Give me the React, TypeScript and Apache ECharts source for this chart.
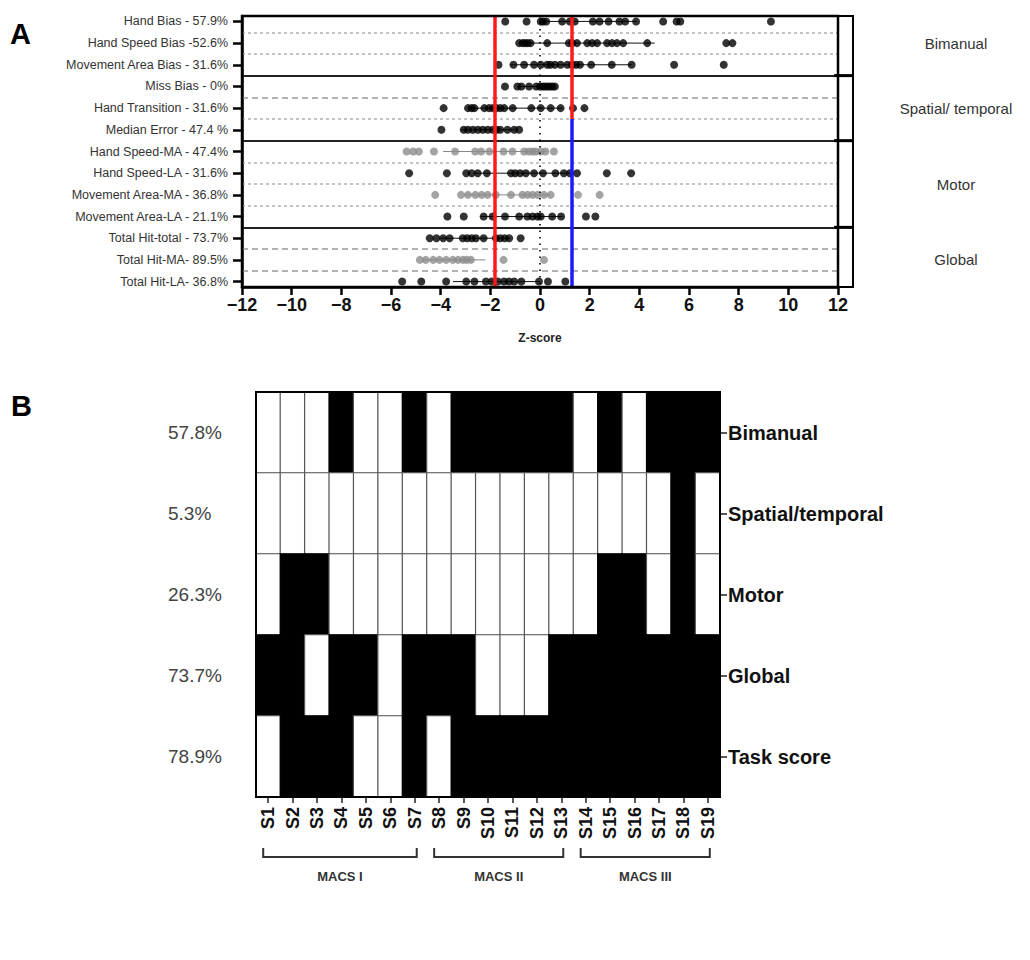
import React, { useEffect, useRef } from "react";
import * as echarts from "echarts";

// ---------- Panel A data ----------
const rowLabels = [
  "Hand Bias - 57.9%",
  "Hand Speed Bias -52.6%",
  "Movement Area Bias - 31.6%",
  "Miss Bias - 0%",
  "Hand Transition - 31.6%",
  "Median Error - 47.4 %",
  "Hand Speed-MA - 47.4%",
  "Hand Speed-LA - 31.6%",
  "Movement Area-MA - 36.8%",
  "Movement Area-LA - 21.1%",
  "Total Hit-total - 73.7%",
  "Total Hit-MA- 89.5%",
  "Total Hit-LA- 36.8%",
];
const rowGray = [false, false, false, false, false, false, true, false, true, false, false, true, false];

const handBias = [-1.4, -0.54, 0.03, 0.12, 0.25, 0.89, 1.2, 1.4, 2.13, 2.4, 2.76, 3.2, 3.43, 3.87, 4.96, 5.5, 5.65, 9.3];
const handSpeedBias = [-0.84, -0.7, -0.6, -0.5, -0.38, 0.29, 1.16, 1.3, 1.49, 1.9, 2.1, 2.3, 2.7, 2.9, 3.1, 3.35, 4.32, 7.5, 7.75];
const movementAreaBias = [-1.67, -1.07, -0.64, -0.24, 0.03, 0.29, 0.42, 0.6, 0.83, 1.1, 1.29, 1.45, 1.61, 2.06, 2.89, 3.69, 5.4, 7.4];
const missBias = [-1.41, -0.91, -0.75, -0.44, -0.15, 0.0, 0.1, 0.2, 0.3, 0.4, 0.5, 0.6];
const handTransition = [-3.88, -2.9, -2.75, -2.64, -2.24, -2.05, -1.9, -1.75, -1.6, -1.44, -1.1, -0.35, 0.03, 0.43, 0.83, 1.33, 1.79];
const medianError = [-3.97, -3.07, -2.9, -2.7, -2.5, -2.3, -2.1, -1.9, -1.75, -1.6, -1.31, -1.04, -0.84];
const handSpeedMA = [-5.37, -5.11, -4.88, -4.27, -3.42, -2.61, -2.37, -2.04, -1.47, -1.11, -0.64, -0.45, -0.3, -0.17, 0.03, 0.22, 0.56];
const handSpeedLA = [-5.27, -3.75, -2.97, -2.75, -2.51, -2.14, -1.17, -1.0, -0.8, -0.57, -0.24, 0.12, 0.62, 0.96, 1.2, 1.49, 2.69, 3.67];
const movementAreaMA = [-4.22, -3.18, -2.9, -2.6, -2.35, -2.11, -1.78, -1.17, -0.71, -0.5, -0.3, -0.1, 0.16, 0.43, 1.53, 2.4];
const movementAreaLA = [-3.73, -3.07, -2.27, -1.91, -1.41, -0.84, -0.51, -0.3, -0.1, 0.03, 0.49, 0.85, 1.85, 2.23];
const totalHitTotal = [-4.44, -4.17, -3.9, -3.64, -3.11, -2.93, -2.75, -2.58, -2.27, -1.78, -1.6, -1.42, -1.24, -0.78];
const totalHitMA = [-4.84, -4.6, -4.3, -4.05, -3.78, -3.51, -3.3, -3.1, -2.95, -2.78, -1.47, 0.16];
const totalHitLA = [-5.55, -4.78, -3.78, -2.97, -2.64, -2.18, -1.95, -1.7, -1.45, -1.25, -1.04, -0.75, -0.04, 0.32, 1.02];

const rowValues = [
  handBias, handSpeedBias, movementAreaBias, missBias, handTransition, medianError,
  handSpeedMA, handSpeedLA, movementAreaMA, movementAreaLA, totalHitTotal, totalHitMA, totalHitLA,
];
const errLow = [0.0, -0.6, -1.2, -0.9, -2.7, -3.2, -3.9, -2.6, -3.0, -2.4, -4.0, -4.7, -3.5];
const errHigh = [3.9, 4.62, 3.7, 0.6, 0.9, -1.0, 0.3, 1.3, 0.4, 0.9, -1.2, -2.2, 0.0];

const groupNames = ["Bimanual", "Spatial/ temporal", "Motor", "Global"];
const groupCenters = [1, 4, 7.5, 11];
const groupBounds = [2.5, 5.5, 9.5];
const dashedBounds = [0.5, 1.5, 3.5, 4.5, 6.5, 7.5, 8.5, 10.5, 11.5];
const longDashBounds = [3.5, 10.5, 11.5];
const leftThreshold = -1.84;
const rightThreshold = 1.29;
const redBlueSplit = 4.5;

// ---------- Panel B data ----------
const subjects = ["S1", "S2", "S3", "S4", "S5", "S6", "S7", "S8", "S9", "S10", "S11", "S12", "S13", "S14", "S15", "S16", "S17", "S18", "S19"];
const domains = ["Bimanual", "Spatial/temporal", "Motor", "Global", "Task score"];
const domainPercents = ["57.8%", "5.3%", "26.3%", "73.7%", "78.9%"];
const bimanualRow = [0, 0, 0, 1, 0, 0, 1, 0, 1, 1, 1, 1, 1, 0, 1, 0, 1, 1, 1];
const spatialRow = [0, 0, 0, 0, 0, 0, 0, 0, 0, 0, 0, 0, 0, 0, 0, 0, 0, 1, 0];
const motorRow = [0, 1, 1, 0, 0, 0, 0, 0, 0, 0, 0, 0, 0, 0, 1, 1, 0, 1, 0];
const globalRow = [1, 1, 0, 1, 1, 0, 1, 1, 1, 0, 0, 0, 1, 1, 1, 1, 1, 1, 1];
const taskRow = [0, 1, 1, 1, 0, 0, 1, 0, 1, 1, 1, 1, 1, 1, 1, 1, 1, 1, 1];
const matrix = [bimanualRow, spatialRow, motorRow, globalRow, taskRow];
const macsNames = ["MACS I", "MACS II", "MACS III"];
const macsFirst = [0, 7, 13];
const macsLast = [6, 12, 18];

const FONT = "'Liberation Sans', Arial, Helvetica, sans-serif";

export default function App() {
  const ref = useRef<HTMLDivElement>(null);
  useEffect(() => {
    document.body.style.margin = "0";
    const chart = echarts.init(ref.current!, null, { renderer: "svg" });

    const gA = { left: 242, top: 16, width: 596, height: 271 };
    const gB = { left: 256, top: 392, width: 464, height: 405 };

    const blackPts: number[][] = [];
    const grayPts: number[][] = [];
    rowValues.forEach((vals, i) => {
      vals.forEach((v) => (rowGray[i] ? grayPts : blackPts).push([v, i]));
    });

    const heatData: any[] = [];
    matrix.forEach((row, r) =>
      row.forEach((v, c) =>
        heatData.push({
          value: [c, r, v],
          itemStyle: { color: v ? "#000" : "#fff", borderColor: v ? "#000" : "#555", borderWidth: 1.2 },
        })
      )
    );

    const sepLines: any[] = [];
    dashedBounds.forEach((b) =>
      sepLines.push({
        yAxis: b,
        lineStyle: {
          color: longDashBounds.includes(b) ? "#999" : "#b0b0b0",
          type: longDashBounds.includes(b) ? [6, 4] : [3, 3],
          width: 1.5,
        },
      })
    );
    groupBounds.forEach((b) => sepLines.push({ yAxis: b, lineStyle: { color: "#222", type: "solid", width: 2 } }));

    const fmtMinus = (v: number) => (v < 0 ? "\u2212" + Math.abs(v) : String(v));

    chart.setOption({
      animation: false,
      textStyle: { fontFamily: FONT },
      grid: [
        { ...gA, containLabel: false },
        { ...gB, containLabel: false },
      ],
      xAxis: [
        {
          gridIndex: 0,
          type: "value",
          min: -12,
          max: 12,
          interval: 2,
          splitLine: { show: false },
          axisLine: { show: true, onZero: false, lineStyle: { color: "#000", width: 2.5 } },
          axisTick: { show: true, length: 8, lineStyle: { color: "#000", width: 2.5 } },
          axisLabel: { formatter: fmtMinus, fontSize: 18, fontWeight: "bold", color: "#111", margin: 9 },
          name: "Z-score",
          nameLocation: "middle",
          nameGap: 45,
          nameTextStyle: { fontSize: 12, fontWeight: "bold", color: "#222" },
        },
        {
          gridIndex: 1,
          type: "category",
          data: subjects,
          position: "bottom",
          axisLine: { show: true, onZero: false, lineStyle: { color: "#000", width: 1.5 } },
          axisTick: { show: true, alignWithLabel: true, length: 6, lineStyle: { color: "#222", width: 1.5 } },
          axisLabel: { rotate: 90, fontSize: 18, fontWeight: "bold", color: "#111", margin: 10, interval: 0 },
          splitLine: { show: false },
        },
      ],
      yAxis: [
        {
          gridIndex: 0,
          type: "value",
          min: -0.25,
          max: 12.25,
          inverse: true,
          splitLine: { show: false },
          axisLine: { show: true, onZero: false, lineStyle: { color: "#000", width: 2.5 } },
          axisTick: {
            show: true,
            length: 9,
            customValues: rowLabels.map((_, i) => i),
            lineStyle: { color: "#000", width: 2.5 },
          },
          axisLabel: {
            customValues: rowLabels.map((_, i) => i),
            formatter: (v: number) => rowLabels[Math.round(v)] ?? "",
            fontSize: 12.5,
            color: "#333",
            margin: 14,
          },
        },
        {
          gridIndex: 0,
          type: "value",
          min: -0.25,
          max: 12.25,
          inverse: true,
          position: "right",
          offset: 15,
          splitLine: { show: false },
          axisLine: { show: true, onZero: false, lineStyle: { color: "#000", width: 2 } },
          axisTick: { show: false },
          axisLabel: {
            customValues: groupCenters,
            formatter: (v: number) => groupNames[groupCenters.indexOf(v)] ?? "",
            fontSize: 15,
            color: "#333",
            align: "center",
            margin: 103,
          },
        },
        {
          gridIndex: 1,
          type: "category",
          data: domains,
          inverse: true,
          position: "right",
          axisLine: { show: false, onZero: false },
          axisTick: { show: true, alignWithLabel: true, length: 7, lineStyle: { color: "#222", width: 1.5 } },
          axisLabel: { fontSize: 20, fontWeight: "bold", color: "#111", margin: 8 },
          splitLine: { show: false },
        },
        {
          gridIndex: 1,
          type: "category",
          data: domainPercents,
          inverse: true,
          position: "left",
          axisLine: { show: false, onZero: false },
          axisTick: { show: false },
          axisLabel: { fontSize: 19, color: "#444", align: "left", margin: 88 },
          splitLine: { show: false },
        },
      ],
      visualMap: {
        show: false,
        type: "piecewise",
        seriesIndex: 5,
        dimension: 2,
        pieces: [
          { value: 0, color: "#fff" },
          { value: 1, color: "#000" },
        ],
      },
      series: [
        {
          type: "custom",
          xAxisIndex: 0,
          yAxisIndex: 0,
          z: 1,
          clip: false,
          data: errLow.map((lo, i) => [lo, errHigh[i], i]),
          encode: { x: [0, 1], y: 2 },
          renderItem: (params: any, api: any) => {
            const i = params.dataIndex;
            const p1 = api.coord([api.value(0), api.value(2)]);
            const p2 = api.coord([api.value(1), api.value(2)]);
            return {
              type: "line",
              shape: { x1: p1[0], y1: p1[1], x2: p2[0], y2: p2[1] },
              style: { stroke: rowGray[i] ? "#888" : "#111", lineWidth: 1 },
            };
          },
          markLine: { silent: true, symbol: "none", label: { show: false }, data: sepLines },
        },
        {
          type: "scatter",
          xAxisIndex: 0,
          yAxisIndex: 0,
          z: 3,
          clip: false,
          symbolSize: 8,
          itemStyle: { color: "#000" },
          data: blackPts,
        },
        {
          type: "scatter",
          xAxisIndex: 0,
          yAxisIndex: 0,
          z: 3,
          clip: false,
          symbolSize: 8,
          itemStyle: { color: "#8c8c8c" },
          data: grayPts,
        },
        {
          type: "line",
          xAxisIndex: 0,
          yAxisIndex: 0,
          z: 2,
          data: [],
          markLine: {
            silent: true,
            symbol: "none",
            label: { show: false },
            data: [
              { xAxis: 0, lineStyle: { color: "#000", type: [1.5, 5], width: 1.6 } },
            ],
          },
        },
        {
          type: "line",
          xAxisIndex: 0,
          yAxisIndex: 0,
          z: 5,
          data: [],
          markLine: {
            silent: true,
            symbol: "none",
            label: { show: false },
            data: [
              { xAxis: leftThreshold, lineStyle: { color: "#ff1a1a", type: "solid", width: 3.5 } },
              [
                { coord: [rightThreshold, -0.25], lineStyle: { color: "#ff1a1a", type: "solid", width: 3.5 } },
                { coord: [rightThreshold, redBlueSplit] },
              ],
              [
                { coord: [rightThreshold, redBlueSplit], lineStyle: { color: "#1a1aff", type: "solid", width: 3.5 } },
                { coord: [rightThreshold, 12.25] },
              ],
            ],
          },
        },
        {
          type: "heatmap",
          xAxisIndex: 1,
          yAxisIndex: 2,
          data: heatData,
          emphasis: { disabled: true },
        },
      ],
    });

    // decorations positioned from the axes
    const px = (x: number, y: number) => chart.convertToPixel({ xAxisIndex: 0, yAxisIndex: 0 }, [x, y]) as number[];
    const topLeft = px(-12, -0.25);
    const botRight = px(12, 12.25);
    const graphics: any[] = [
      {
        type: "rect",
        z: 20,
        shape: { x: topLeft[0], y: topLeft[1], width: botRight[0] - topLeft[0], height: botRight[1] - topLeft[1] },
        style: { fill: "none", stroke: "#000", lineWidth: 2.5 },
      },
      {
        type: "rect",
        z: 20,
        shape: { x: botRight[0], y: topLeft[1], width: 15, height: botRight[1] - topLeft[1] },
        style: { fill: "none", stroke: "#000", lineWidth: 2 },
      },
    ];
    groupBounds.forEach((b) => {
      const p = px(12, b);
      graphics.push({
        type: "line",
        z: 20,
        shape: { x1: p[0] - 4, y1: p[1], x2: p[0] + 15, y2: p[1] },
        style: { stroke: "#000", lineWidth: 3 },
      });
    });
    graphics.push({
      type: "rect",
      z: 20,
      shape: { x: gB.left, y: gB.top, width: gB.width, height: gB.height },
      style: { fill: "none", stroke: "#000", lineWidth: 2 },
    });
    macsNames.forEach((name, k) => {
      const x1 = (chart.convertToPixel({ xAxisIndex: 1 }, macsFirst[k]) as number) - 5;
      const x2 = (chart.convertToPixel({ xAxisIndex: 1 }, macsLast[k]) as number) + 2;
      graphics.push({
        type: "polyline",
        z: 20,
        shape: { points: [[x1, 848], [x1, 857], [x2, 857], [x2, 848]] },
        style: { fill: "none", stroke: "#333", lineWidth: 2 },
      });
      graphics.push({
        type: "text",
        z: 20,
        x: (x1 + x2) / 2,
        y: 876,
        style: {
          text: name,
          fontSize: 13,
          fontWeight: "bold",
          fill: "#333",
          align: "center",
          verticalAlign: "middle",
          fontFamily: FONT,
        },
      });
    });
    graphics.push({
      type: "text",
      x: 10,
      y: 34,
      style: { text: "A", fontSize: 29, fontWeight: "bold", fill: "#000", verticalAlign: "middle", fontFamily: FONT },
    });
    graphics.push({
      type: "text",
      x: 11,
      y: 406,
      style: { text: "B", fontSize: 29, fontWeight: "bold", fill: "#000", verticalAlign: "middle", fontFamily: FONT },
    });
    chart.setOption({ graphic: graphics });

    return () => chart.dispose();
  }, []);
  return <div ref={ref} style={{ width: 1030, height: 960 }} />;
}
